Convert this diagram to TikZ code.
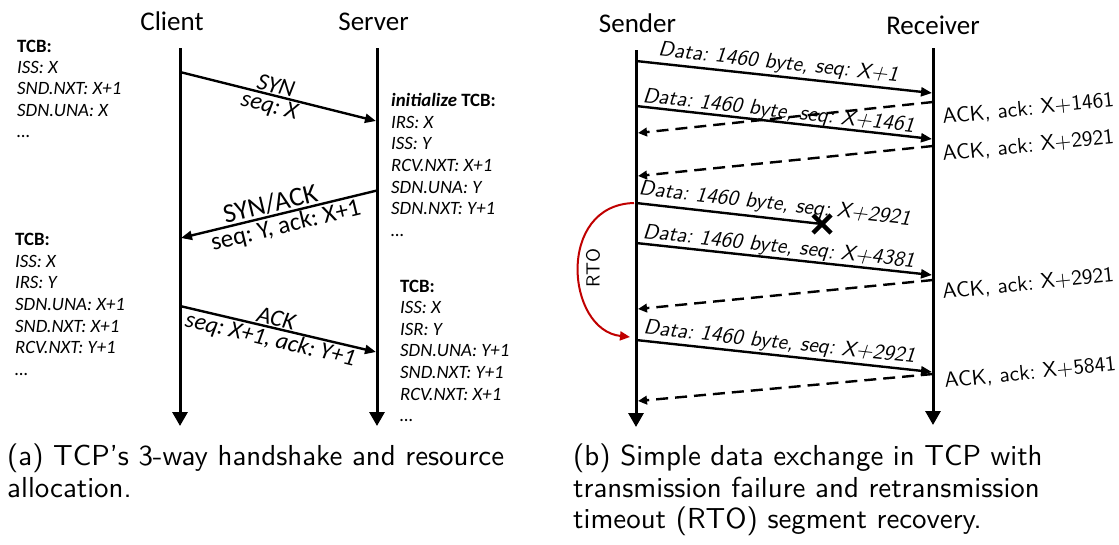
\documentclass[tikz,border=0pt]{standalone}
\usepackage{fontspec}
\newfontfamily\carl{Carlito}
\usetikzlibrary{arrows.meta,calc}
\definecolor{rtored}{RGB}{192,0,0}
\frenchspacing
% Latin Modern Sans at its 10pt design size, enlarged
\newcommand\lab[1]{\scalebox{2.14}{#1}}
\newcommand\captxt[1]{\scalebox{2.89}{#1}}

\begin{document}
\begin{tikzpicture}[x=1pt,y=-1pt,
  lifeline/.style={line width=3pt,-{Triangle[length=14pt,width=15pt]}},
  msg/.style={line width=2.4pt,-{Triangle[length=11pt,width=9pt]}},
  ackmsg/.style={line width=2.4pt,dash pattern=on 12pt off 7pt,-{Triangle[length=9pt,width=8.5pt]}},
  rto/.style={rtored,line width=2pt,-{Triangle[length=10pt,width=9pt]}},
  title/.style={font=\carl\fontsize{27}{30}\selectfont,anchor=base,inner sep=0},
  tcb/.style={font=\carl\itshape\fontsize{18.8}{22}\selectfont,anchor=base west,inner sep=0},
  hs/.style={font=\carl\fontsize{25}{28}\selectfont,sloped,inner sep=0},
  hsi/.style={font=\carl\itshape\fontsize{24}{27}\selectfont,sloped,inner sep=0},
  datalbl/.style={font=\sffamily\itshape\fontsize{10}{12}\selectfont,sloped,inner sep=0},
  acklbl/.style={font=\sffamily\fontsize{10}{12}\selectfont,anchor=base west,inner sep=0,rotate=6},
  caption/.style={font=\sffamily\fontsize{10}{12}\selectfont,anchor=base west,inner sep=0},
]
\useasboundingbox (0,0) rectangle (1119,544);

% ---------- (a) handshake ----------
\node[title] (client) at (172,30) {Client};
\node[title] (server) at (373.5,30) {Server};

\coordinate (cTop) at (180,48);  \coordinate (cBot) at (180,426);
\coordinate (sTop) at (377,48);  \coordinate (sBot) at (377,426);
\draw[lifeline] (cTop) -- (cBot);
\draw[lifeline] (sTop) -- (sBot);

\coordinate (syn0) at (180,72);   \coordinate (syn1) at (376,121);
\coordinate (sa0)  at (377,190.5);\coordinate (sa1)  at (181,238);
\coordinate (ack0) at (180,306);  \coordinate (ack1) at (376,352);

\draw[msg] (syn0) -- node[hsi,pos=.477,above=1pt] (synl) {SYN}
                     node[hsi,pos=.47,below=1pt] (synseq) {seq: X} (syn1);
\draw[msg] (sa0) -- node[hs,pos=.53,above=1pt,font=\carl\fontsize{27}{30}\selectfont] (sal) {SYN/ACK}
                    node[hs,pos=.48,below=1pt] (saseq) {seq: Y, ack: X+1} (sa1);
\draw[msg] (ack0) -- node[hsi,pos=.48,above=1pt] (ackl) {ACK}
                     node[hsi,pos=.475,below=1pt] (ackseq) {seq: X+1, ack: Y+1} (ack1);

% transmission control blocks
\foreach \txt [count=\i from 0] in {{\bfseries\upshape TCB:},ISS: X,SND.NXT: X+1,SDN.UNA: X,…}
  \node[tcb] (tcbA\i) at (17,52+21.4*\i) {\txt};
\foreach \txt [count=\i from 0] in {{\bfseries initialize \upshape TCB:},IRS: X,ISS: Y,RCV.NXT: X+1,SDN.UNA: Y,SDN.NXT: Y+1,…}
  \node[tcb] (tcbB\i) at (391,106.6+21.6*\i) {\txt};
\foreach \txt [count=\i from 0] in {{\bfseries\upshape TCB:},ISS: X,IRS: Y,SDN.UNA: X+1,SND.NXT: X+1,RCV.NXT: Y+1,…}
  \node[tcb] (tcbC\i) at (15,245.6+21.6*\i) {\txt};
\foreach \txt [count=\i from 0] in {{\bfseries\upshape TCB:},ISS: X,ISR: Y,SDN.UNA: Y+1,SND.NXT: Y+1,RCV.NXT: X+1,…}
  \node[tcb] (tcbD\i) at (400,292+21.6*\i) {\txt};

\node[caption] (capa1) at (7,465) {\captxt{(a) TCP’s 3-way handshake and resource}};
\node[caption] (capa2) at (7,497) {\captxt{allocation.}};

% ---------- (b) data exchange ----------
\node[title] (sender) at (637.5,32) {Sender};
\node[title] (receiver) at (933,34) {Receiver};

\coordinate (tTop) at (636,50);  \coordinate (tBot) at (636,427);
\coordinate (rTop) at (933,48);  \coordinate (rBot) at (933,425);
\draw[lifeline] (tTop) -- (tBot);
\draw[lifeline] (rTop) -- (rBot);

\coordinate (d1s) at (636,61);  \coordinate (d1e) at (932,93);
\coordinate (d2s) at (636,106); \coordinate (d2e) at (932,139);
\coordinate (a1s) at (933,102); \coordinate (a1e) at (638,133);
\coordinate (a2s) at (933,146); \coordinate (a2e) at (638,176);
\coordinate (d3s) at (636,203); \coordinate (lost) at (822,224);
\coordinate (d4s) at (636,243); \coordinate (d4e) at (932,275);
\coordinate (a3s) at (933,280); \coordinate (a3e) at (638,309);
\coordinate (d5s) at (636,340); \coordinate (d5e) at (932,372);
\coordinate (a4s) at (933,374); \coordinate (a4e) at (638,401);

\draw[msg] (d1s) -- node[datalbl,pos=.476,above=2pt] (d1l) {\lab{Data: 1460 byte, seq: X+1}} (d1e);
\draw[ackmsg] (a1s) -- (a1e);
\draw[msg] (d2s) -- node[datalbl,pos=.478,above=-1pt] (d2l) {\lab{Data: 1460 byte, seq: X+1461}} (d2e);
\draw[ackmsg] (a2s) -- (a2e);
\draw[line width=2.4pt] (d3s) -- node[datalbl,pos=.737,above=3pt] (d3l) {\lab{Data: 1460 byte, seq: X+2921}} (lost);
\draw[line width=4.5pt] ($(lost)+(-9,-9)$) -- ($(lost)+(9,9)$);
\draw[line width=4.5pt] ($(lost)+(-9,9)$) -- ($(lost)+(9,-9)$);
\draw[msg] (d4s) -- node[datalbl,pos=.478,above=0pt] (d4l) {\lab{Data: 1460 byte, seq: X+4381}} (d4e);
\draw[ackmsg] (a3s) -- (a3e);
\draw[msg] (d5s) -- node[datalbl,pos=.48,above=1.5pt] (d5l) {\lab{Data: 1460 byte, seq: X+2921}} (d5e);
\draw[ackmsg] (a4s) -- (a4e);

\node[acklbl] (k1) at (943,124) {\lab{ACK, ack: X+1461}};
\node[acklbl] (k2) at (943,161) {\lab{ACK, ack: X+2921}};
\node[acklbl] (k3) at (943,299) {\lab{ACK, ack: X+2921}};
\node[acklbl] (k4) at (945,388) {\lab{ACK, ack: X+5841}};

% retransmission timeout
\coordinate (rtoStart) at (634,203);
\coordinate (rtoEnd) at (630,337);
\draw[rto] (rtoStart) .. controls (556,205) and (566,330) .. (rtoEnd);
\node[rotate=90,inner sep=0,font=\sffamily\fontsize{10}{12}\selectfont] (rtol) at (593,268) {\scalebox{1.9}{RTO}};

\node[caption] (capb1) at (573,465) {\captxt{(b) Simple data exchange in TCP with}};
\node[caption] (capb2) at (573,497) {\captxt{transmission failure and retransmission}};
\node[caption] (capb3) at (573,528) {\captxt{timeout (RTO) segment recovery.}};
\end{tikzpicture}
\end{document}
